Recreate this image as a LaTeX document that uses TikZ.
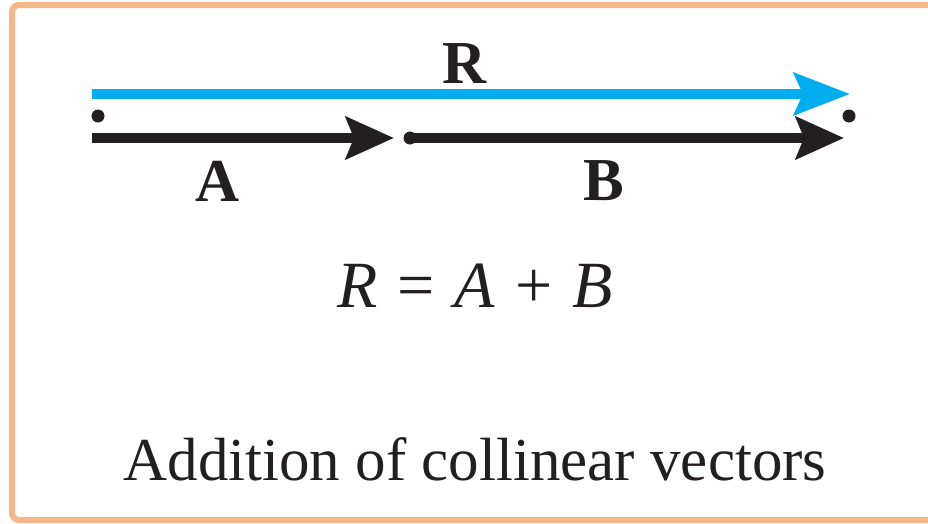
\documentclass[tikz,border=0pt]{standalone}
\usepackage{fontspec}
\setmainfont{Liberation Serif}
\usetikzlibrary{arrows.meta}
\definecolor{frameorange}{HTML}{F5B78A}
\definecolor{vecblue}{HTML}{00AEEF}
\definecolor{inkblack}{HTML}{231F20}
\tikzset{
  vecline/.style={line width=10pt, inkblack},
  bluevec/.style={line width=10pt, vecblue, -{Stealth[length=56pt,width=42pt,inset=9pt]}},
  blackvec/.style={line width=10pt, inkblack, -{Stealth[length=48pt,width=42pt,inset=8pt]}},
  dotnode/.style={circle, fill=inkblack, inner sep=0pt, minimum size=13pt},
  boldlabel/.style={inkblack, anchor=base, font=\fontsize{61}{70}\selectfont\bfseries, inner sep=0pt},
  textlabel/.style={inkblack, anchor=base, font=\fontsize{61}{70}\selectfont, inner sep=0pt}
}
\begin{document}
\begin{tikzpicture}[x=1pt,y=-1pt]
\useasboundingbox (0,0) rectangle (928,523);
\clip (0,0) rectangle (928,523);
\fill[white] (0,0) rectangle (928,523);
\draw[frameorange, line width=6pt, rounded corners=7pt] (12,5) rectangle (960,520);
% dots
\node[dotnode] (dl) at (98,116) {};
\node[dotnode] (dm) at (410,138) {};
\node[dotnode] (dr) at (849,116) {};
% endpoints
\coordinate (rs) at (92,94);
\coordinate (re) at (850,94);
\coordinate (as) at (92,138);
\coordinate (ae) at (394,138);
\coordinate (be) at (844,138);
% vectors
\draw[bluevec] (rs) -- (re);
\draw[blackvec] (as) -- (ae);
\draw[blackvec] (dm.center) -- (be);
% labels
\node[boldlabel] (lr) at (465,83) {R};
\node[boldlabel] (la) at (218,201) {A};
\node[boldlabel] (lb) at (604,200) {B};
\node[textlabel, font=\fontsize{66}{76}\selectfont] (eq) at (475,307) {\textit{R}\hspace{0.3em}=\hspace{0.3em}\textit{A}\hspace{0.3em}+\hspace{0.3em}\textit{B}};
\node[textlabel] (cap) at (475,480) {Addition of collinear vectors};
\end{tikzpicture}
\end{document}
